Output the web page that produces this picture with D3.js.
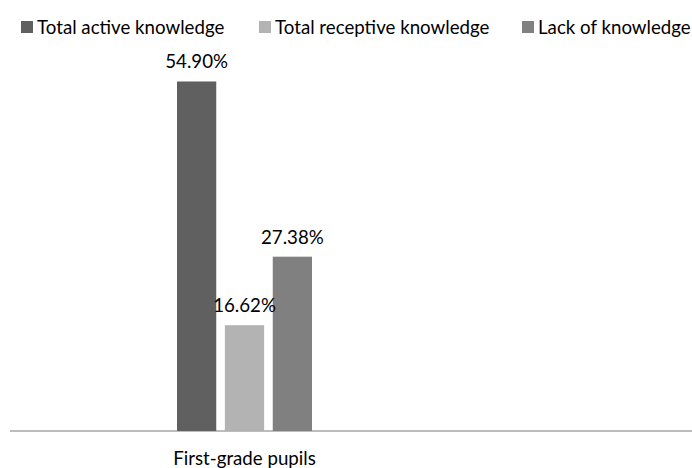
<!DOCTYPE html>
<html><head><meta charset="utf-8">
<script src="https://cdn.jsdelivr.net/npm/d3@7"></script>
<style>body{margin:0;background:#fff}svg{display:block}text{font-family:Lato,"Noto Sans",sans-serif;fill:#000}</style>
</head><body><svg id="c" width="692" height="468"></svg>
<script>
const categories = ["First-grade pupils"];
const seriesNames = ["Total active knowledge", "Total receptive knowledge", "Lack of knowledge"];
const seriesValues = [54.90, 16.62, 27.38];
const valueLabels = ["54.90%", "16.62%", "27.38%"];
const colors = ["#606060", "#b3b3b3", "#808080"];

const FS = 18.7;
const svg = d3.select("#c");
const y = d3.scaleLinear().domain([0, 60]).range([431, 49]);
const x0 = d3.scaleBand().domain(categories).range([10, 481]);
const cx = x0(categories[0]);
const x1 = d3.scaleBand().domain(seriesNames).range([177 - cx, 312 - cx]).paddingInner(0.18);

// axis
svg.append("line").attr("x1", 10).attr("x2", 692).attr("y1", 431).attr("y2", 431)
  .attr("stroke", "#a6a6a6").attr("stroke-width", 1.5);

const g = svg.append("g").attr("transform", `translate(${cx},0)`);
g.selectAll("rect").data(seriesNames).join("rect")
  .attr("x", d => x1(d)).attr("width", x1.bandwidth())
  .attr("y", (d, i) => y(seriesValues[i])).attr("height", (d, i) => y(0) - y(seriesValues[i]))
  .attr("fill", (d, i) => colors[i]);
g.selectAll("text.v").data(seriesNames).join("text").attr("class", "v")
  .attr("x", d => x1(d) + x1.bandwidth() / 2).attr("y", (d, i) => y(seriesValues[i]) - 13)
  .attr("text-anchor", "middle").attr("font-size", FS).text((d, i) => valueLabels[i]);

svg.append("text").attr("x", x1(seriesNames[1]) + x1.bandwidth() / 2 + cx).attr("y", 465)
  .attr("text-anchor", "middle").attr("font-size", FS).text(categories[0]);

// legend
const legX = [21, 259, 522];
const leg = svg.selectAll("g.leg").data(seriesNames).join("g").attr("class", "leg")
  .attr("transform", (d, i) => `translate(${legX[i]},0)`);
leg.append("rect").attr("x", 0).attr("y", 21).attr("width", 12).attr("height", 12).attr("fill", (d, i) => colors[i]);
leg.append("text").attr("x", 16).attr("y", 34).attr("font-size", FS).text(d => d);
</script></body></html>
